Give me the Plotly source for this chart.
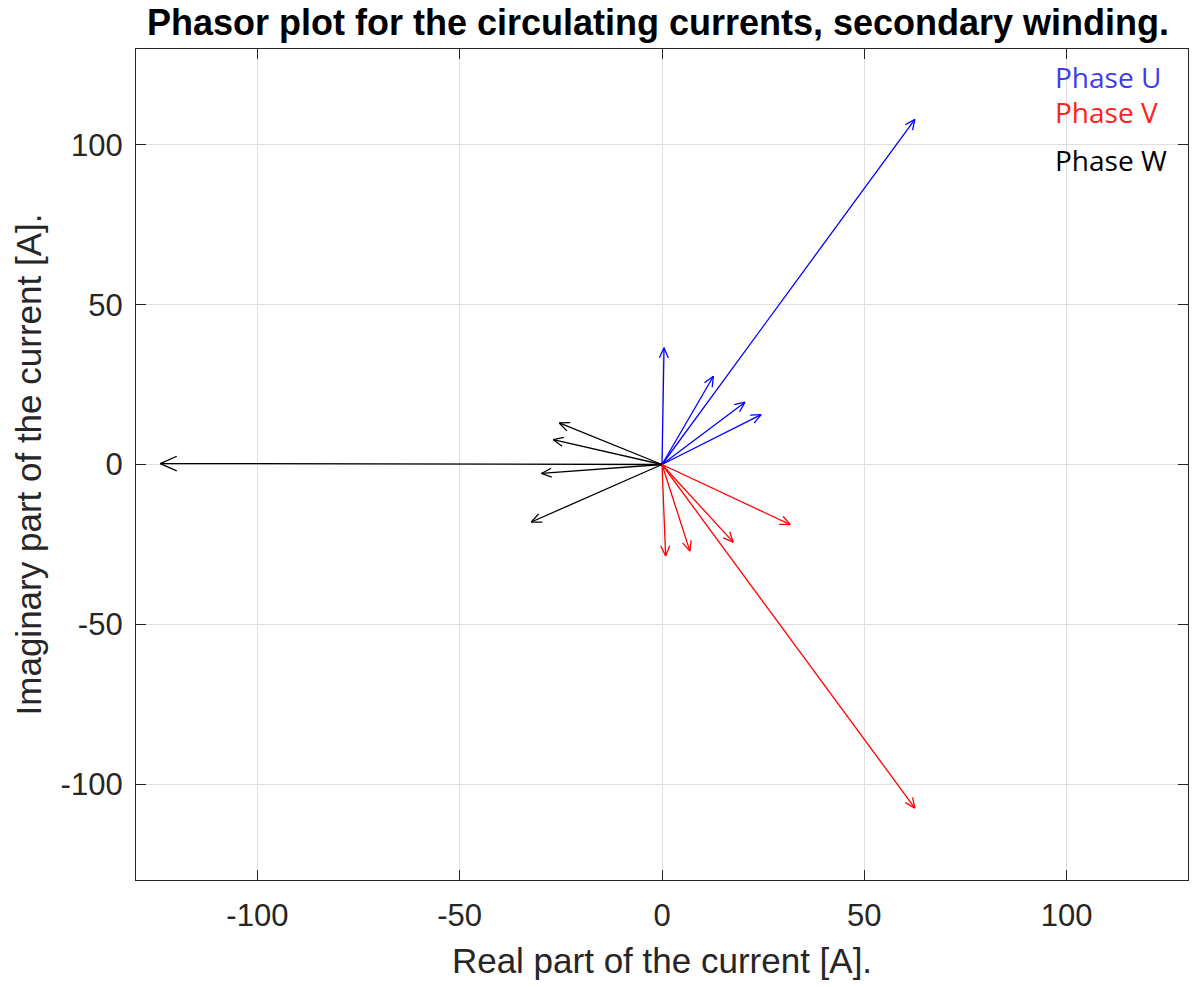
import numpy as np
import plotly.graph_objects as go

# Phasor tips (real, imaginary) in amperes, all drawn from the origin
phase_u_re = [62.5, 0.5, 12.7, 20.5, 24.5]
phase_u_im = [108.0, 36.5, 27.6, 19.5, 15.6]

phase_v_re = [62.5, 31.7, 17.6, 6.9, 0.9]
phase_v_im = [-107.5, -18.8, -24.3, -27.1, -28.6]

phase_w_re = [-124.0, -25.4, -26.9, -29.8, -32.3]
phase_w_im = [0.3, 13.0, 7.8, -2.8, -18.0]

phase_names = ["Phase U", "Phase V", "Phase W"]
phase_colors = ["#0000ff", "#ff0000", "#000000"]
label_colors = ["#3c3cf0", "#ff2020", "#000000"]

axis_range = [-130, 130]
tick_vals = [-100, -50, 0, 50, 100]
tick_text = ["-100", "-50", "0", "50", "100"]

W, H = 1194, 987
margin = dict(l=136, r=6, t=49, b=107)
plot_w = W - margin["l"] - margin["r"]
plot_h = H - margin["t"] - margin["b"]
sx = plot_w / (axis_range[1] - axis_range[0])   # px per unit, x
sy = plot_h / (axis_range[1] - axis_range[0])   # px per unit, y

HEAD_ANG = np.deg2rad(24)       # half-angle of the open arrowhead


def head_len(px_len):
    # barb length in px, growing slightly for very long phasors
    return 11.0 if px_len < 450 else 18.0


def arrow_path(re_vals, im_vals):
    xs, ys = [], []
    for re, im in zip(re_vals, im_vals):
        # shaft
        xs += [0, re, None]
        ys += [0, im, None]
        # open "V" head, sized in screen pixels
        px, py = re * sx, im * sy
        ang = np.arctan2(py, px)
        hl = head_len(np.hypot(px, py))
        for s in (1, -1):
            a = ang + np.pi + s * HEAD_ANG
            bx = (px + hl * np.cos(a)) / sx
            by = (py + hl * np.sin(a)) / sy
            xs += [re, bx, None]
            ys += [im, by, None]
    return xs, ys


fig = go.Figure()
for name, color, re_vals, im_vals in zip(
    phase_names, phase_colors,
    [phase_u_re, phase_v_re, phase_w_re],
    [phase_u_im, phase_v_im, phase_w_im],
):
    xs, ys = arrow_path(re_vals, im_vals)
    fig.add_trace(go.Scatter(
        x=xs, y=ys, mode="lines", name=name,
        line=dict(color=color, width=1.3),
        hoverinfo="skip", showlegend=False,
    ))

FONT = "Liberation Sans, Arial, sans-serif"
axis_common = dict(
    range=axis_range, tickvals=tick_vals, ticktext=tick_text,
    showgrid=True, gridcolor="#dfdfdf", gridwidth=1,
    zeroline=False, showline=True, linecolor="#262626", linewidth=1.3,
    mirror="ticks", ticks="inside", ticklen=10, tickcolor="#262626",
    tickfont=dict(family=FONT, size=31, color="#262626"),
)

fig.update_layout(
    width=W, height=H, margin=margin,
    paper_bgcolor="white", plot_bgcolor="white",
    title=dict(
        text="<b>Phasor plot for the circulating currents, secondary winding.</b>",
        x=658 / W, xanchor="center", y=1 - 22 / H, yanchor="middle",
        yref="container", xref="container",
        font=dict(family=FONT, size=36, color="#000000"),
    ),
    xaxis=dict(
        **axis_common, ticklabelstandoff=8,
        title=dict(text="Real part of the current [A].",
                   font=dict(family=FONT, size=35, color="#262626"),
                   standoff=16),
    ),
    yaxis=dict(
        **axis_common, ticklabelstandoff=6,
        title=dict(text="Imaginary part of the current [A].",
                   font=dict(family=FONT, size=35, color="#262626"),
                   standoff=8),
    ),
    showlegend=False,
)

# Phase labels in the top-right corner
label_y_px = [77, 112, 160]
for name, color, ypx in zip(phase_names, label_colors, label_y_px):
    fig.add_annotation(
        text=name, xref="paper", yref="paper",
        x=(1053 - margin["l"]) / plot_w, xanchor="left",
        y=1 - (ypx - margin["t"]) / plot_h, yanchor="middle",
        showarrow=False,
        font=dict(family="Open Sans, Noto Sans, sans-serif", size=28, color=color),
    )

fig.write_html("out.html")
